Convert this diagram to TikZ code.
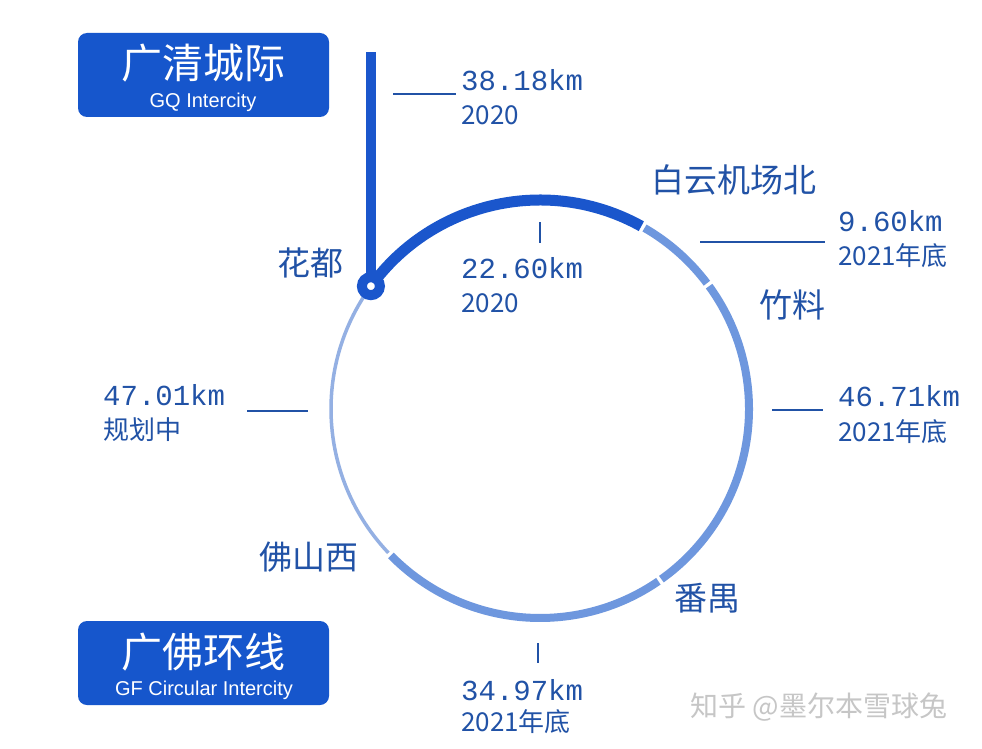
\documentclass[tikz,border=0pt]{standalone}
\usepackage{fontspec}
\usetikzlibrary{calc}
\setmainfont{Noto Sans CJK SC}
\newfontfamily\monofnt{Liberation Mono}
\newfontfamily\latinfnt{Liberation Sans}
\definecolor{boxblue}{HTML}{1656CC}
\definecolor{darkline}{HTML}{1A56CC}
\definecolor{lightline}{HTML}{6E97DE}
\definecolor{paleline}{HTML}{94B0E3}
\definecolor{txtblue}{HTML}{2152A6}
\tikzset{
  station/.style={inner sep=0pt, text=txtblue, font=\fontsize{33}{33}\selectfont},
  km/.style={anchor=west, inner sep=0pt, text=txtblue, font=\monofnt\fontsize{29}{29}\selectfont},
  yr/.style={anchor=west, inner sep=0pt, text=txtblue, font=\fontsize{26}{26}\selectfont},
  lead/.style={draw=txtblue, line width=2pt},
  seg/.style={line width=#1, line cap=butt},
  linebox/.style={fill=boxblue, rounded corners=9pt, inner sep=0pt, minimum width=251pt, minimum height=84pt},
  title/.style={text=white, inner sep=0pt, font=\fontsize{41}{41}\selectfont},
  subtitle/.style={text=white, inner sep=0pt, font=\latinfnt\fontsize{20}{20}\selectfont}
}
\begin{document}
\begin{tikzpicture}[x=1pt,y=-1pt]
\fill[white] (0,0) rectangle (982,749);
\useasboundingbox (0,0) rectangle (982,749);

\node [linebox] (gqbox) at (203.5,75) {};
\node [title] (gq) at (203,63) {广清城际};
\node [subtitle] (gqen) at (203,102) {GQ Intercity};
\node [linebox] (gfbox) at (203.5,663) {};
\node [title] (gf) at (203,652) {广佛环线};
\node [subtitle] (gfen) at (204,690) {GF Circular Intercity};

\coordinate (c) at (540,409);
\coordinate (hd) at ($(c)+(-144:209)$);
\coordinate (gqtop) at (hd |- 0,52);

\draw [darkline, seg=11pt] (c) ++(-144:209) arc[start angle=-144, end angle=-61, radius=209];
\draw [lightline, seg=8pt] (c) ++(-60:209) arc[start angle=-60, end angle=-37, radius=209];
\draw [lightline, seg=8pt] (c) ++(-36:209) arc[start angle=-36, end angle=54.5, radius=209];
\draw [lightline, seg=8pt] (c) ++(55.5:209) arc[start angle=55.5, end angle=135.5, radius=209];
\draw [paleline, seg=3.5pt] (c) ++(136.5:209) arc[start angle=136.5, end angle=216, radius=209];
\draw [darkline, line width=10pt] (hd) -- (gqtop);
\node [circle, draw=darkline, line width=10pt, fill=white, minimum size=18pt, inner sep=0pt] (huadu) at (hd) {};

\node [station] (s1) at (310,263) {花都};
\node [station] (s2) at (734,180) {白云机场北};
\node [station] (s3) at (792,305) {竹料};
\node [station] (s4) at (707,598) {番禺};
\node [station] (s5) at (309,557) {佛山西};

\node [km] (km1) at (461,80) {38.18km};
\node [yr] (yr1) at (461,115) {2020};
\node [km] (km2) at (461,268) {22.60km};
\node [yr] (yr2) at (461,303) {2020};
\node [km] (km3) at (838,221) {9.60km};
\node [yr] (yr3) at (838,256) {2021年底};
\node [km] (km4) at (838,396) {46.71km};
\node [yr] (yr4) at (838,432) {2021年底};
\node [km] (km5) at (103,395) {47.01km};
\node [yr] (yr5) at (103,430) {规划中};
\node [km] (km6) at (461,690) {34.97km};
\node [yr] (yr6) at (461,722) {2021年底};

\coordinate (a1) at (393,94);  \coordinate (b1) at (456,94);
\coordinate (a2) at (540,222); \coordinate (b2) at (540,243);
\coordinate (a3) at (700,242); \coordinate (b3) at (825,242);
\coordinate (a4) at (772,410); \coordinate (b4) at (823,410);
\coordinate (a5) at (247,411); \coordinate (b5) at (308,411);
\coordinate (a6) at (538,643); \coordinate (b6) at (538,663);
\foreach \i in {1,...,6} \draw [lead] (a\i) -- (b\i);

\node [text=gray!45, inner sep=0pt, font=\fontsize{28}{28}\selectfont] (mark) at (819,707) {知乎 @墨尔本雪球兔};
\end{tikzpicture}
\end{document}
